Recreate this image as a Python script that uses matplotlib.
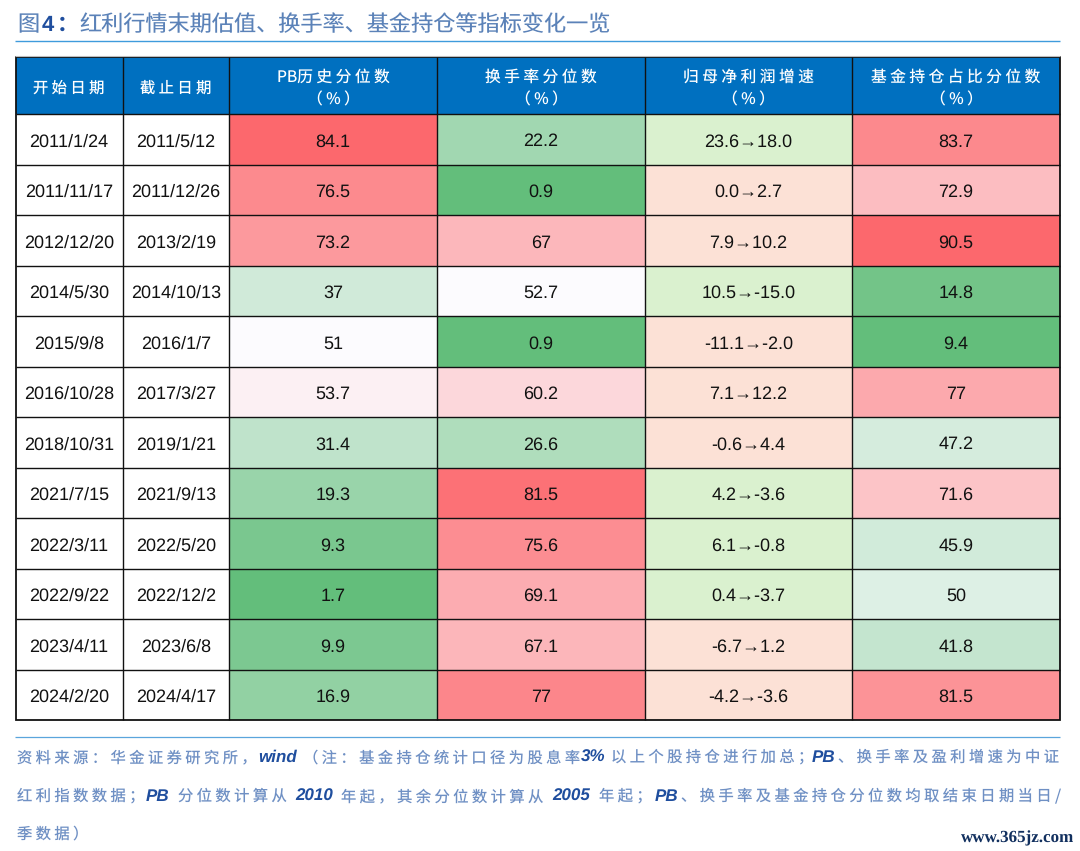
import matplotlib
matplotlib.use("Agg")
import matplotlib.pyplot as plt
from matplotlib.colors import LinearSegmentedColormap, TwoSlopeNorm
from matplotlib.patches import Rectangle
import numpy as np

plt.rcParams["text.hinting"] = "no_hinting"
plt.rcParams["text.hinting_factor"] = 1

# ---------- data ----------
start_dates = ["2011/1/24","2011/11/17","2012/12/20","2014/5/30","2015/9/8","2016/10/28",
               "2018/10/31","2021/7/15","2022/3/11","2022/9/22","2023/4/11","2024/2/20"]
end_dates = ["2011/5/12","2011/12/26","2013/2/19","2014/10/13","2016/1/7","2017/3/27",
             "2019/1/21","2021/9/13","2022/5/20","2022/12/2","2023/6/8","2024/4/17"]
pb_pct = [84.1,76.5,73.2,37,51,53.7,31.4,19.3,9.3,1.7,9.9,16.9]
turnover_pct = [22.2,0.9,67,52.7,0.9,60.2,26.6,81.5,75.6,69.1,67.1,77]
profit_from = [23.6,0.0,7.9,10.5,-11.1,7.1,-0.6,4.2,6.1,0.4,-6.7,-4.2]
profit_to = [18.0,2.7,10.2,-15.0,-2.0,12.2,4.4,-3.6,-0.8,-3.7,1.2,-3.6]
fund_pct = [83.7,72.9,90.5,14.8,9.4,77,47.2,71.6,45.9,50,41.8,81.5]

headers = [["开始日期"],["截止日期"],["PB历史分位数","（%）"],["换手率分位数","（%）"],
           ["归母净利润增速","（%）"],["基金持仓占比分位数","（%）"]]

title_runs = [("图",17,"c"),("4",42,"b"),("：",57,"b"),
              ("红利行情末期估值、换手率、基金持仓等指标变化一览",79,"c")]
note_line1 = [("资料来源：华金证券研究所，",17,"c"),("wind",258,"l"),
              ("（注：基金持仓统计口径为股息率",303,"c"),("3%",581,"l"),
              ("以上个股持仓进行加总；",611,"c"),("PB",812,"l"),
              ("、换手率及盈利增速为中证",838,"c")]
note_line2 = [("红利指数数据；",17,"c"),("PB",146,"l"),("分位数计算从",178,"c"),("2010",295,"l"),
              ("年起，其余分位数计算从",341,"c"),("2005",552,"l"),("年起；",599,"c"),("PB",654.5,"l"),
              ("、换手率及基金持仓分位数均取结束日期当日/",681,"c")]
note_line3 = [("季数据）",17,"c")]
watermark = "www.365jz.com"

# ---------- style ----------
CJK = "Noto Sans CJK SC"
LAT = "Liberation Sans"
col_x = [15.5,122.5,229,437,645,852,1060]
row_y = np.linspace(114,720,13)
HEAD_TOP = 57
cmap = LinearSegmentedColormap.from_list("xl",["#63BE7B","#FCFCFF","#FC686D"])
up_col, down_col = "#FCE1D6", "#DAF1CF"
scale_mid = {2:51,3:52.5,5:60}
scale_top = {2:84.1,3:83.5,5:90.5}

def sp(s):
    return " ".join(s)

fig = plt.figure(figsize=(10.8,8.51),dpi=100)
ax = fig.add_axes([0,0,1,1])
ax.set_xlim(0,1080); ax.set_ylim(851,0); ax.axis("off")

# title
for s,x,k in title_runs:
    if k=="c":
        ax.text(x,31,s,family=CJK,fontsize=15.95,color="#5B82B8",va="baseline",ha="left")
    else:
        ax.text(x,31,s,family=LAT if s=="4" else CJK,fontsize=15.5,color="#1F4E9E",weight="bold",va="baseline",ha="left")
ax.plot([15,1060],[40.5,40.5],color="#3F9BDC",lw=1.0,solid_capstyle="butt")
ax.plot([15,1060],[55.8,55.8],color="#BDBDBD",lw=0.8,solid_capstyle="butt")

# header
ax.add_patch(Rectangle((col_x[0],HEAD_TOP),col_x[-1]-col_x[0],row_y[0]-HEAD_TOP,fc="#0070C0",ec="none"))
for j,lines in enumerate(headers):
    xc=(col_x[j]+col_x[j+1])/2
    if len(lines)==1:
        ax.text(xc,88.5,sp(lines[0]),family=CJK,fontsize=11,color="white",ha="center",va="center")
    else:
        top = lines[0]
        top = "PB"+sp(top[2:]) if top.startswith("PB") else sp(top)
        ax.text(xc,77,top,family=CJK,fontsize=11.3,color="white",ha="center",va="center")
        ax.text(xc,100,sp(lines[1]),family=CJK,fontsize=11.3,color="white",ha="center",va="center")

# body
columns = {2:pb_pct,3:turnover_pct,5:fund_pct}
for j,vals in columns.items():
    norm = TwoSlopeNorm(vmin=min(vals),vcenter=scale_mid[j],vmax=scale_top[j])
    for i,v in enumerate(vals):
        ax.add_patch(Rectangle((col_x[j],row_y[i]),col_x[j+1]-col_x[j],row_y[i+1]-row_y[i],
                               fc=cmap(norm(v)),ec="none"))
for i,(a,b) in enumerate(zip(profit_from,profit_to)):
    ax.add_patch(Rectangle((col_x[4],row_y[i]),col_x[5]-col_x[4],row_y[i+1]-row_y[i],
                           fc=up_col if b>a else down_col,ec="none"))

def cell(j,i,s):
    ax.text((col_x[j]+col_x[j+1])/2,(row_y[i]+row_y[i+1])/2+2.5,s,family=LAT,fontsize=13.05,
            color="#111111",ha="center",va="center")
for i in range(12):
    cell(0,i,start_dates[i]); cell(1,i,end_dates[i])
    cell(2,i,f"{pb_pct[i]:g}"); cell(3,i,f"{turnover_pct[i]:g}")
    cell(4,i,f"{profit_from[i]:.1f}→{profit_to[i]:.1f}")
    cell(5,i,f"{fund_pct[i]:g}")

# grid
for x in col_x[1:-1]:
    ax.plot([x,x],[HEAD_TOP,row_y[-1]],color="#111111",lw=1.0,solid_capstyle="butt")
for y in list(row_y[:-1]):
    ax.plot([col_x[0],col_x[-1]],[y,y],color="#111111",lw=1.0,solid_capstyle="butt")
ax.add_patch(Rectangle((col_x[0],HEAD_TOP),col_x[-1]-col_x[0],row_y[-1]-HEAD_TOP,fc="none",ec="#111111",lw=1.3))

# notes
ax.plot([15,1060],[737,737],color="#5AA5DC",lw=0.9,solid_capstyle="butt")
for runs,base in ((note_line1,762),(note_line2,801),(note_line3,839)):
    for s,x,k in runs:
        if k=="c":
            ax.text(x,base,sp(s),family=CJK,fontsize=11,color="#6F90C4",ha="left",va="baseline")
        else:
            ax.text(x,base,s,family=LAT,style="italic",weight="bold",fontsize=12,color="#1F4E9E",ha="left",va="baseline")

ax.text(1074,842,watermark,family="Liberation Serif",weight="bold",fontsize=12.5,color="#12305F",ha="right",va="baseline")

fig.savefig("out.png",dpi=100,facecolor="white")
